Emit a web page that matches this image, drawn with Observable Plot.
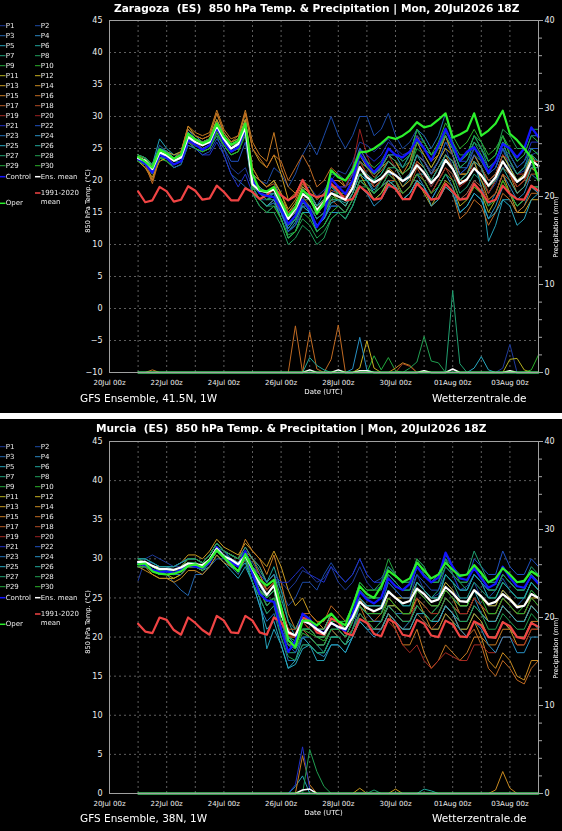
<!DOCTYPE html>
<html>
<head>
<meta charset="utf-8">
<script src="https://cdn.jsdelivr.net/npm/d3@7"></script>
<script src="https://cdn.jsdelivr.net/npm/@observablehq/plot@0.6"></script>
<style>
  body { margin: 0; background: #000; font-family: "DejaVu Sans", sans-serif; }
  .panel { position: relative; width: 562px; background: #000; overflow: hidden; }
  .panel svg { position: absolute; left: 0; top: 0; }
  .overlay { will-change: transform; }
  .overlay text { white-space: pre; font-family: "DejaVu Sans", sans-serif; }
  .sep { height: 6px; background: #fff; }
</style>
</head>
<body>
<div id="zar" class="panel" style="height:413px"></div>
<div class="sep"></div>
<div id="mur" class="panel" style="height:412px"></div>
<script>
// Forecast steps: 6-hourly from 21 Jul 00z to 4 Aug 00z
const runStart = Date.UTC(2026, 6, 21, 0);
const times = d3.range(57).map(i => new Date(runStart + i * 6 * 3600e3));
const tickDays = [20, 22, 24, 26, 28, 30, 32, 34].map(d => new Date(Date.UTC(2026, 6, d)));
const gridDays = d3.range(20, 36).map(d => new Date(Date.UTC(2026, 6, d)));
const xDomain = [new Date(Date.UTC(2026, 6, 20)), new Date(Date.UTC(2026, 7, 4))];
const precipTicks = [0, 10, 20, 30, 40];
const precipMinor = d3.range(0, 41, 2);

const memberNames = d3.range(1, 31).map(i => "P" + i);
const memberColors = [
  "#1e3a9a", "#1c4aa6", "#2466ae", "#2a86bf", "#24a0b8", "#1fa39a", "#1fa07a", "#1f9e5c", "#22a83c", "#2ab02a",
  "#b4b01e", "#c8b020", "#c89a20", "#c88a20", "#c87a22", "#c06a22", "#b85a24", "#b04a24", "#a82a22", "#9c2020",
  "#2030c8", "#1f50c0", "#2070b8", "#2890c4", "#28a8c0", "#20a89a", "#20a070", "#209e50", "#22a83c", "#2ab02a"
];
const controlColor = "#1414ff";
const meanColor = "#ffffff";
const operColor = "#2cf02c";
const climColor = "#f04444";

// ---------- Zaragoza (41.5N, 1W): 850 hPa temperature, °C ----------
const zarMembers = [
  [23.5,23,22,24.5, 23.5,22.5,23,26.5, 25,24.5,25,27.5, 25,22,21,22, 19,17,17,18, 17,14.5,16,18.5, 19,17.5,18.5,20, 21.5,21,23,26, 25.5,24.5,25.5,26.5, 25,24,24.5,26.5, 23,21.5,23,25, 22,19.5,20,22, 20,18,19.5,22, 22.5,21,21.5,24, 24.5],
  [23,22.5,21.5,24, 24,23,23.5,27, 26.5,26,26.5,29, 27,25.5,26,29.5, 21,20,19.5,22, 21,19,21,24, 26,24,27,30, 27,25,27,30, 30,27,28,30.5, 27,25,26,28, 26,24,25,27, 24,21,22,24, 22,20,21,24, 22,20,21,23.5, 23],
  [24,23.5,22.5,25.5, 24.5,23,24,27.5, 26,25,25.5,27, 24,21,20,19, 18,17,16,17, 15,12.5,14,16.5, 16,14,15,17, 18,17,19,22, 21,19,20,22, 22,20,21,24, 23,21,23,26, 25,22,22,25, 24,21,22,25, 22,20,20.5,22.5, 21],
  [24,23.5,22.5,25, 24.5,24,24,28, 26.5,26,26.5,29, 27,25.5,26,29, 20,19,18,19, 17,15,16,19, 18,16,17,19, 18,17,19,22, 20,18.5,20,21, 20,18,19,21, 19,17,19,21, 20,17,18,20, 19,16,18,21, 19,17,18,21, 20],
  [24,23.5,22.5,26.5, 25,24,24.5,28, 27,26,26.5,29.5, 27.5,26,26.5,29.5, 21,20,19,20, 17,13,14,17, 15,13,14,16, 16,15,17,20, 19,17,18,19.5, 20,18,19,21, 21,19,21,24, 23,20,21,23, 19,10.5,13,17, 17,15,16,19, 19],
  [23,22.5,21.5,24, 23.5,22.5,23,26, 25.5,25,25.5,28, 26,24.5,25,28, 19,18,17.5,18, 15,12,13.5,16.5, 16,14,15,17, 17,16.5,18,21, 20,19,20,21, 21,19,20.5,23, 22,20,22,24, 23,20,21,24, 22,20,21,24, 22,20,21,24, 23],
  [23.5,23,22,24, 24,23,23,26.5, 26,25.5,26,28, 26.5,25,26,28, 19,18,17,17, 15,13,14,16, 15,12,13,15, 15,14,16,19, 18,17,18,20, 19,18,19,21, 20,18,20,22, 21,18,19,21, 20,18,20,22, 21,19,20,22, 21],
  [23,22.5,21,23.5, 23,22,22.5,25.5, 25,24.5,25,27, 25.5,24,24.5,27, 18,16,15,15, 13,10,11,13, 12,10,11,14, 15,15,17,20, 20,20,22,24, 24,22,23,26, 25,23,25,27.5, 26,23,24,26, 25,23,24,27, 24,22,23,25, 24],
  [23.5,23,22,24.5, 24,23,23.5,27, 26,25.5,26,28.5, 26.5,25,25.5,28, 18,17,16,16.5, 14,11,12,15, 15,13,14,17, 18,18,20,24, 22,21,22,24, 23,21,22,25, 24,22,24,27, 25,22,23,25, 23,21,22,25, 23,21,22,25, 24],
  [23,22.5,21.5,23.5, 23,22,22.5,26, 25,24.5,25,27.5, 25.5,24,24.5,27.5, 19,18,17,17.5, 15,12,13,16, 16,14,15,17.5, 17,16,18,21, 21,20,21,23, 22,21,22,26, 26,24,26,29, 27,25,26,28, 26,24,25,27, 24,22,23,25, 25],
  [24,23.5,22,25, 24.5,23.5,24,27.5, 26.5,26,26.5,29.5, 27,25.5,26,29.5, 22,20,19,20, 18,15,16,18, 17,15,16,18, 17,16,18,21, 19,17,18,20, 19,17,18,20, 18,16,18,20, 19,16,17,19, 18,15,17,20, 18,16,17,19, 18],
  [23,22,20.5,23, 23.5,22.5,23,26.5, 25.5,25,25.5,28, 26,24.5,25,28.5, 20,19,18,19, 17,15,16.5,19, 18,16,17,19, 19,18,20,23, 22,21,22,23, 22,20,21,24, 23,21,23,25, 24,21,21,23, 22,20,21,24, 22,20,21,24, 22],
  [24,23,21,24.5, 24.5,24,24.5,28.5, 27,26.5,27,30.5, 27.5,26,26.5,30.5, 25,23,22,24, 21,17,18,20, 19,17,18,20, 20,19,21,24, 22,21,22,24, 23,21,22,26, 24,22,24,27, 24,20,21,23, 20,17,18,21, 18,15,15,17, 17],
  [23,22,20,23.5, 24,23,23.5,27, 26.5,26,26.5,29.5, 27,25.5,26,29.5, 21,20,19,20, 18,15.5,17,19.5, 18,16,17,19.5, 18,17,19,22, 21,19,20,22, 21,19,20,23, 22,20,22,24, 22,19,20,22, 21,18,20,23, 21,19,20,22, 21],
  [24,23,20,24, 24.5,23.5,24.5,28.5, 27.5,27,27.5,31, 28,26.5,27,31, 26,24,23,27.5, 22,19,18,20, 18,16,17,20, 20,19,21,25, 23,21,22,24, 23,21,23,27, 25,23,24,27, 24,21,21,24, 22,19,20,23, 21,18,19,22, 21],
  [23.5,22.5,19.5,23.5, 24,23,24,28, 27,26.5,27,30.5, 27.5,26,27,30.5, 25,23.5,22,24, 23,20,22,24, 22,19,20,22, 21,19,20,23, 21,19,20,22, 20,17,18,20, 19,16,17,19, 18,14,15,17, 16,13,15,18, 17,15,16,18, 18],
  [24,23.5,22,25, 24,23.5,24,27.5, 26.5,26,26.5,29, 27,25.5,26,29, 22,20,19,19.5, 17,14,15,18, 17,15,16,18.5, 18,17.5,19.5,23, 22,20.5,21.5,23, 22,20,21,24, 23,21,22,24, 23,20,20,22, 21,19,20,22, 21,19,20,23, 23],
  [23.5,23,21.5,24, 24,22.5,23,26.5, 25.5,25,25.5,28, 26,24.5,25,28, 20,19,18,19, 16,14,15,17.5, 16,14,15,17, 16,15,17,20, 19,18,19,20, 20,18,19,22, 20,18,20,22, 20,17,18,20, 19,17,18,21, 20,18,19,21, 21],
  [24,23,21.5,24.5, 24,23,23.5,27, 26,25,25.5,28, 26,24.5,25,27.5, 19,17,16,17, 15,13,14,17, 17,15,17,20, 19,18,20,23, 21,19,20,21, 20,18,19,21, 20,18,20,22, 21,19,20,23, 22,20,21,24, 23,21,21,23, 23],
  [23.5,23,22,24, 23.5,22.5,23,26, 25.5,25,25.5,28, 26,24.5,25,28, 20,19,18,18.5, 17,15,16,18, 17,15,17,20, 19,19,22,28, 24,21,22,24, 22,20,21,23, 21,19,21,23, 22,19,20,22, 21,18,20,23, 21,19,20,22, 22],
  [23.5,23,22,24, 23.5,22.5,23,26, 25,24,24,26, 24,21,19,21, 18,16,15,16, 15,12,13,16, 16,14,15,18, 19,19,21,25, 24,23,24,26, 25,23,24,27, 26,24,25,28, 26,23,23,25, 24,21,22,25, 24,22,23,26, 26],
  [23,22.5,21.5,23.5, 23.5,22,22.5,25.5, 25,24,24.5,26.5, 25,23,23,26, 19,17,16,16.5, 15,12,13,15, 15,13,14,16, 16,15,17,20, 19,18,19,21, 21,20,21,24, 23,21,23,26, 24,21,22,24, 23,21,22,25, 23,21,22,25, 25],
  [24,23.5,22.5,25, 24.5,23.5,24,27.5, 26,25.5,26,28.5, 26.5,25,25.5,28, 20,18,17,18, 16,13,14,17, 18,16,18,21, 21,20,22,25, 23,21,22,24, 24,22,24,28, 27,25,27,30.5, 26,23,24,27, 25,22,23,26, 25,23,24,27, 27],
  [23,22.5,21.5,24, 24,23,23.5,27, 26,25.5,26,28.5, 26.5,25,25.5,28.5, 20,19,18,18, 15,12.5,14,16, 15,12,13,15, 15,14,16,19, 18,16,17,19, 19,17,18,20, 19,17,19,21, 19,15,16,18, 17,14,16,19, 18,16,17,19, 18],
  [23.5,23,22.5,25, 24.5,23.5,24,27.5, 26,25.5,26,29, 26.5,25,25.5,28.5, 19,17,16,17, 14,11,12,15, 15,13,14,16.5, 17,16,18,21, 20,18,19,20, 19,17,18,20, 19,16,17,19, 18,15,16,18, 17,14,15,17, 16,13,14,17, 18],
  [23.5,23,22,24.5, 24,23,23.5,27, 26,25.5,26,28, 26.5,25,25.5,28.5, 20,18.5,18,19, 16,14,15,18, 18,16,17,19, 18,17,19,22, 21,20,21,23, 22,20,21,24, 22,20,22,24, 23,20,21,23, 22,19,20,22, 20,18,19,22, 22],
  [24,23.5,22.5,25, 24.5,23.5,24,27.5, 26.5,26,26.5,29, 27,25.5,26,29, 20,18,17.5,18, 16,13,14,17, 16,14,15,17, 17,17,19,23, 22,21,22,24, 23,22,24,28, 26,24,25,27, 25,22,23,26, 24,22,23,26, 23,21,22,24, 23],
  [23,22.5,21.5,23.5, 23.5,22.5,23,26.5, 25.5,25,25.5,28, 26,24.5,25,28, 19,17,16,16, 14,11.5,12,14, 13,11,12,14, 15,14,16,19, 19,18,20,22, 22,21,22,26, 25,24,25,28, 26,24,24,27, 26,23,24,28, 27,25,25,28, 28],
  [24,23.5,22.5,25, 24,23,23.5,26.5, 25.5,25,25.5,28, 26,24.5,25,28, 19,18,17,17.5, 16,13,14,17, 17,15,16,18, 18,18,20,24, 23,22,23,25, 24,23,24,28, 26,24,25,28, 26,23,24,27, 25,23,24,27, 25,23,24,27, 26],
  [23,22.5,21,23.5, 23.5,22.5,23,26, 25,24.5,25,27.5, 25.5,24,24.5,27.5, 18,16,15,16, 14,11,12,15, 14,12,13,15, 16,15,17,20, 19,18,19,21, 20,18,19,21, 20,18,19,21, 20,17,17,19, 18,16,17,20, 18,16,17,19, 19]
];
const zarControl = [23.4,22.6,21.2,24.0, 23.5,22.5,23.0,26.3, 25.6,24.8,25.5,28.3, 26.0,24.5,25.2,28.0, 20.0,18.0,17.6,17.4, 15.5,13.2,14.5,17.0, 15.5,12.7,14.5,20.3, 19.0,17.9,20.0,24.2, 22.5,21.3,22.5,25.0, 24.0,23.6,24.5,26.5, 25.0,23.1,25.5,28.1, 25.5,23.1,24.5,25.2, 23.5,21.3,23.0,25.7, 25.0,23.6,25.0,28.3, 26.8];
const zarMean = [23.5,23.1,21.8,24.4, 23.9,23.1,23.6,26.8, 26.0,25.5,26.0,28.6, 26.5,25.0,25.7,28.3, 19.4,18.4,18.2,18.6, 16.4,14.0,15.6,17.9, 17.1,15.4,16.6,18.0, 17.5,17.0,18.8,22.1, 20.5,19.7,20.3,21.5, 20.8,19.9,20.6,22.4, 21.2,19.6,20.8,23.2, 21.8,19.5,20.2,21.9, 20.8,19.2,20.5,23.0, 21.3,19.8,20.6,23.1, 22.3];
const zarOper = [23.7,22.9,22.0,24.8, 24.2,23.4,24.0,27.3, 26.4,25.8,26.3,28.9, 26.9,25.6,26.2,28.9, 21.0,18.5,18.3,19.0, 16.8,14.5,15.8,18.5, 17.5,14.8,16.5,21.6, 20.5,20.0,21.5,24.4, 24.5,25.0,25.8,26.8, 26.5,27.0,27.8,29.1, 28.3,28.6,29.5,30.5, 26.7,27.2,27.8,30.5, 27.0,27.8,28.9,30.9, 27.3,26.3,25.0,23.6, 20.0];
const zarClim = [18.3,16.6,16.9,19.0, 18.3,16.7,17.0,19.1, 18.4,17.0,17.2,19.2, 18.2,16.9,16.9,18.8, 18.2,17.1,17.7,18.8, 17.7,16.9,17.6,20.1, 17.9,17.4,17.7,19.5, 18.4,16.9,17.1,19.1, 18.2,17.0,17.2,19.4, 18.7,17.1,17.1,19.5, 18.4,17.0,17.2,19.5, 18.3,17.0,17.2,19.5, 18.2,16.6,17.0,19.2, 17.9,17.1,17.0,19.2, 18.4];
// 6-hourly precipitation, mm: [series, step, amount]; every other step is dry
const zarRain = [
  ["P15",2,0.3], ["P16",22,5.3], ["P16",24,4.6], ["P16",25,0.4], ["P16",27,1.5], ["P16",28,5.4],
  ["P26",24,1.7], ["P26",25,0.8], ["P26",26,0.3], ["P24",30,0.4], ["P24",31,4.0], ["P24",32,0.3],
  ["P12",31,0.5], ["P12",32,3.6], ["P12",33,0.5], ["P9",33,1.9], ["P9",34,0.3], ["P9",35,1.7], ["P9",36,0.2],
  ["P14",36,0.5], ["P14",37,1.1], ["P14",38,0.8], ["P18",37,1.0], ["P18",38,0.7],
  ["P28",38,0.5], ["P28",39,1.2], ["P28",40,4.1], ["P28",41,1.3], ["P28",42,1.1],
  ["P27",44,9.3], ["P27",45,1.0], ["P25",47,0.5], ["P25",48,1.8], ["P25",49,0.3],
  ["P1",51,0.5], ["P1",52,3.2], ["P11",52,1.5], ["P11",53,1.6], ["P11",54,0.3], ["P10",55,0.3], ["P10",56,2.0],
  ["mean",24,0.3], ["mean",28,0.3], ["mean",31,0.2], ["mean",32,0.2], ["mean",40,0.2], ["mean",44,0.4], ["mean",52,0.2]
];

// ---------- Murcia (38N, 1W): 850 hPa temperature, °C ----------
const murMembers = [
  [27.2,30,30.5,30, 29.5,29,29,29.5, 29.5,29,29.5,31, 30,29.5,29,30, 28,27,26,27, 27,26,27,28.5, 28,27,27.5,29, 27,26,27,29, 27,26,26.5,28, 27,26,26,28, 26,25,25.5,27, 26,25,25,27, 25,24,24.5,26, 25,24,24,26, 25],
  [29,29,28.5,28, 28.5,28.5,29,29.5, 29.5,29,30,31.5, 30.5,30,29.5,30.5, 29.5,28,27,28, 26,24,25,27, 27,26,28,29.5, 28,27,28,30, 28,27,27.5,29, 28,27,27.5,30, 29,27,28,30, 28,26,26.5,28, 27,25,26,27.5, 26,25,25,27, 26],
  [29.5,29.5,29,28.5, 28,27,26,25.3, 28,28,29,30, 30,29,28,30, 27,25,23,24, 21,19,19,21, 20,19,19,21, 20,19,21,23, 22,22,22,24, 23,23,23,25, 24,23,24,26, 25,24,24,26, 25,24,24,26, 25,24,25,27, 26],
  [30,29.5,29,29, 29,28.5,29,29.5, 29.5,29,30,31.5, 31,30,29.5,31, 29,27,25,26, 22,19,18.5,20, 19,18,17.5,19, 19,18,20,22, 21,20,21,23, 22,21,22,24, 23,22,23,25, 24,23,23,25, 23,22,22,24, 23,22,22,24, 23],
  [29.5,29,28.5,28, 28,28,28.5,29, 29,28.5,29,30.5, 29.5,28.5,27.5,29, 27,25,18.5,21, 19,16,17,20, 19,17,17,19, 19,18,20,23, 22,21,22,24, 24,23,23,26, 25,24,24,26, 25,24,24,26, 24,23,23,25, 24,23,23,25, 24],
  [29.5,29.5,29,29, 29,28.5,29,30, 30,29.5,30.5,32, 31,30.5,30,31, 30,28.5,27,29, 26,22,20,21, 20,19,18,20, 20,19,21,23, 22,21,21,23, 22,21,21,23, 22,21,21,23, 22,21,21,23, 22,20,20,22, 21,20,20,22, 21],
  [29,29,28.5,28.5, 28.5,28,28.5,29, 29,28.5,29.5,31, 30,29.5,29,30, 28,26,24,25, 21,18,18,20, 20,19,19,21, 21,20,22,25, 24,24,24,27, 26,25,25,27, 26,25,26,28, 27,25,25,27, 26,25,25,27, 26,25,25,27, 26],
  [29.5,29.5,29,28.5, 28.5,28.5,28.5,29, 29,28.5,29.5,31, 30,29.5,29,30, 28,26,24.5,25, 22,20,19,21, 21,20,20,22, 22,21,23,26, 25,25,25,28, 27,26,26,29, 28,27,27,30, 28,27,26,28, 27,26,26,28, 27,26,26,28, 27],
  [29.5,29.5,29,28.5, 28.5,28.5,29,29.5, 29.5,29,30,31.5, 30.5,30,29.5,30.5, 28,26,25,26, 23,20,19,21, 21,20,20,22, 22,22,24,27, 26,26,27,30, 28,27,27,30, 29,27,28,30.5, 29,27,27,29, 28,27,27,29, 28,27,27,28.5, 28],
  [30,30,29.5,29, 29,29,29.5,30, 30,29.5,30.5,32, 31,30.5,30,31, 29,27.5,26,27, 23,20,19.5,21, 20.5,20,19.5,21, 20,19,21,23, 22,22,22,25, 24,23,23,25, 24,23,24,26, 25,23,23,25, 24,23,23,25, 24,23,24,26, 25],
  [29,29,28.5,28, 28,27.5,28,29, 29,28.5,29.5,31, 30,29.5,29,30.5, 29,27,26,27, 23,21,20,22, 21,20,20,22, 21,20,22,24, 23,22,22,24, 24,23,23,25, 24,23,23,25, 24,23,23,25, 24,22,22,24, 23,22,22,24, 23],
  [29.5,29,28,27.5, 27.5,27.5,28,29, 29,28.5,29.5,31, 30,29,28.5,30, 28,26,25,26, 22,20,20,22, 22,21,21,23, 22,21,23,25, 24,24,24,26, 25,25,25,27, 26,25,25,27, 26,24,24,26, 25,24,24,26, 25,24,24,25, 25],
  [29.5,29.5,29,29, 29,29,29.5,30.5, 30.5,30,31,32.5, 31.5,31,30.5,32, 31,30,29,31, 29,26,24,25, 23,22,21,23, 22,21,23,25, 23,23,23,25, 24,23,23,25, 23,22,22,24, 23,21,21,23, 22,20,20,22, 21,19,19,21, 21],
  [29,28.5,28,27.5, 27.5,27,27.5,28.5, 28.5,28,29,30.5, 29.5,29,28.5,30, 29,28,26,27, 24,21,20,22, 22,21,21,23, 22,21,22,24, 23,22,22,24, 23,22,22,24, 23,21,21,23, 22,20,20,22, 20,17,16,18, 17,15,14.5,17, 17],
  [29.5,29.5,29,28.5, 28.5,28.5,29,30, 30,29.5,30.5,32, 31,30.5,30,32.5, 31,30,28,30.5, 27,23,21,22, 21,20,20,22, 21,20,22,24, 22,21,21,23, 21,19,19,21, 18,16,17,19, 18,17,18,20, 20,19,19,21, 21,20,20,22, 22],
  [29,29,28.5,28, 28,28,28.5,29.5, 29.5,29,30,31.5, 30.5,30,29.5,31, 30,28,26,27, 23,21,21,23, 23,22,22,24, 23,22,23,25, 24,23,23,25, 24,23,23,24, 23,22,22,24, 23,21,20,21, 19,16,15,17, 16,14.5,14,16, 17],
  [30,29.5,29,28.5, 28.5,28.5,29,30, 30,29.5,30.5,32, 31,30.5,30,31.5, 30,29,27,28, 24,21,20,22, 21,20,20,22, 21,20,22,24, 23,22,23,25, 24,23,23,26, 25,24,24,26, 25,23,23,25, 24,23,23,25, 24,23,23,25, 24],
  [29,29,28.5,28, 28,28,28.5,29, 29,28.5,29.5,31, 30,29.5,29,30, 28,26,24,25, 21,19,19,21, 20,19,19,21, 20,19,21,23, 22,21,21,23, 22,21,21,23, 22,21,22,24, 23,22,22,24, 23,22,22,24, 23,22,22,24, 23],
  [29.5,29,28.5,28, 28,28,28.5,29, 29,28.5,29.5,31, 30,29.5,29,30.5, 29,27,25,26, 22,20,20,22, 21,20,20,22, 21,20,21,23, 22,21,21,22, 21,19,18,19, 17,16,17,18, 17.5,17,17,19, 19,18,18,20, 20,19,19,21, 21],
  [29.5,29.5,29,28.5, 28.5,28.5,29,29.5, 29.5,29,30,31.5, 30.5,30,29.5,30.5, 29,27,26,27, 23,21,20,22, 21,20,20,22, 21,21,22,24, 23,22,22,24, 23,22,22,25, 24,23,23,25, 24,23,23,25, 24,23,23,25, 24,23,23,25, 24],
  [29,29.5,29.5,29, 29,29,29.5,30, 30,29.5,30.5,32, 31,30.5,30,31, 29,28,27,28, 27,27,28,29, 28,27.5,27,29, 28,27,28,30, 28,27,27,29, 28,27,27,29, 28,27,27,29, 28,26,26,28, 27,26,26,28, 27,26,26,28, 27],
  [30,30,29.5,29, 29,29,29.5,30, 30,29.5,30.5,32, 31,30,29.5,31, 28,26,24,25, 22,19,18,20, 20,19,19,21, 21,20,22,25, 24,24,24,27, 26,25,25,28, 27,26,26,29, 28,27,27,30, 29,28,28,31, 29,28,28,30, 29],
  [29.5,29.5,29,28.5, 28.5,28,28,29, 29,28.5,29.5,31, 30,29.5,29,30, 27,24,22,23, 20,17,17,19, 19,18,18,20, 20,19,21,24, 23,23,23,26, 25,24,24,27, 26,25,25,28, 27,26,26,28, 27,26,26,28, 27,26,26,28, 27],
  [29,29,28.5,28, 28,28,28.5,29.5, 29.5,29,30,31.5, 30.5,30,29,30, 28,26.5,25,26, 22,20,19,21, 21,20,20,22, 21,20,22,24, 23,22,22,24, 23,22,22,24, 23,22,22,24, 23,21,20,22, 21,19,18,20, 20,18,18,20, 20],
  [29.5,29.5,29,28.5, 28.5,28,28.5,29, 29,28.5,29.5,31, 30,29,28.5,29.5, 27,24,21,22, 19,16,16.5,18.5, 19,18,18,20, 20,19,20,22, 21,21,21,23, 22,21,21,23, 23,22,22,24, 23,22,22,24, 23,22,22,24, 23,22,22,24, 23],
  [30,30,29.5,29, 29,29,29.5,30, 30,29.5,30.5,32, 31,30.5,30,31.5, 30,29,27,28, 25,22,21,23, 22,21,21,23, 22,21,23,25, 24,24,24,26, 25,24,24,27, 26,25,25,28, 27,26,26,28, 27,25,25,27, 26,25,25,27, 26],
  [29,29,28.5,28, 28.5,28,28.5,29.5, 29.5,29,30,31.5, 30.5,30,29.5,30.5, 28,26,25,26, 22,20,19.5,21, 21,20,20,22, 22,21,23,26, 25,25,25,28, 27,26,26,29, 28,27,27,30, 29,28,28,31, 29,27,27,29, 28,27,27,29, 28],
  [29.5,29.5,29,28.5, 28.5,28.5,29,29.5, 29.5,29,29.5,31, 30,29.5,29,30, 27,25,23,24, 20,17.5,17,19, 19,18,18,20, 20,19,21,23, 22,21,22,24, 23,22,22,24, 23,22,23,25, 24,22,22,24, 23,21,21,23, 22,21,21,23, 22],
  [30,29.5,29,28.5, 28.5,28.5,29,30, 30,29.5,30.5,32, 31,30.5,30,31, 29,27,25,26, 22,19.5,19,21, 21,20,20,22, 22,22,24,27, 26,26,26,29, 28,27,27,30, 28,27,27,29, 28,27,27,29, 28,26,26,28, 27,26,26,28, 27],
  [29,29,28.5,28, 28,28,28.5,29, 29,28.5,29.5,31, 30,29.5,29,30, 28,26,24,25, 21,19,18.5,20.5, 20,19,19,21, 21,20,22,24, 23,23,23,25, 24,23,23,26, 25,24,24,26, 25,24,24,26, 25,23,23,25, 24,23,23,25, 24]
];
const murControl = [29.4,29.2,28.6,28.3, 28.4,28.2,28.6,29.2, 29.0,28.8,29.5,31.5, 30.2,29.6,29.0,31.0, 28.0,25.5,24.7,24.5, 21.0,18.1,19.5,23.0, 22.3,21.0,20.5,21.8, 21.3,20.8,23.0,25.8, 24.8,24.3,25.0,27.5, 26.5,26.0,26.8,29.0, 27.8,27.0,27.6,30.8, 29.0,27.5,27.3,28.8, 27.5,26.3,26.8,29.0, 27.6,26.5,26.3,27.8, 26.8];
const murMean = [29.6,29.6,29.1,28.7, 28.7,28.6,28.9,29.4, 29.3,29.2,29.9,31.3, 30.3,29.9,29.3,30.4, 28.7,26.8,25.4,26.6, 23.0,20.6,20.2,22.1, 21.7,21.0,20.4,21.8, 21.3,21.0,22.5,24.5, 23.7,23.3,23.7,25.8, 25.0,24.3,24.6,26.2, 25.5,24.5,24.8,26.4, 25.6,24.6,24.5,26.0, 25.2,24.2,24.5,25.5, 24.8,23.8,24.0,25.5, 25.0];
const murOper = [29.3,29.4,28.4,28.1, 28.0,28.1,28.4,29.1, 29.3,28.9,29.8,31.1, 30.2,29.3,28.4,30.6, 28.8,27.3,26.6,27.3, 23.8,19.6,18.7,22.1, 22.1,21.5,22.3,23.0, 22.0,21.5,24.0,26.5, 25.5,25.0,26.5,28.5, 27.8,27.0,27.5,29.5, 28.5,27.5,28.0,29.5, 28.6,27.8,28.0,29.2, 28.2,27.0,27.5,28.8, 28.0,27.0,27.2,28.4, 27.8];
const murClim = [21.7,20.7,20.5,22.5, 22.2,20.9,20.3,22.5, 21.8,20.9,20.3,22.7, 22.1,20.6,20.5,22.7, 22.1,20.6,20.3,22.5, 21.9,20.4,20.2,22.5, 22.1,20.6,20.3,22.4, 21.9,20.5,20.2,22.3, 21.8,20.4,20.1,22.3, 21.8,20.3,20.1,22.2, 21.7,20.2,20.0,22.1, 21.6,20.1,20.0,22.0, 21.5,20.0,19.9,21.9, 21.4,20.0,19.8,21.8, 21.3];
const murRain = [
  ["P5",22,0.8], ["P5",23,2.0], ["P21",22,1.0], ["P21",23,5.3], ["P21",24,0.5],
  ["P15",23,4.3], ["P15",24,1.0], ["P28",24,5.0], ["P28",25,2.5], ["P28",26,0.8],
  ["P13",31,0.6], ["P13",36,0.5], ["P27",33,0.4], ["P26",40,0.5], ["P26",41,0.3],
  ["P14",50,0.4], ["P14",51,2.5], ["P14",52,0.6],
  ["mean",23,0.4], ["mean",24,0.5]
];

const panels = [
  {
    id: "zar", height: 413, mt: 20, mb: 41, lo: -10, hi: 45, titleX: 114, titleY: 8, footY: 398,
    title: "Zaragoza  (ES)  850 hPa Temp. & Precipitation | Mon, 20Jul2026 18Z",
    foot: "GFS Ensemble, 41.5N, 1W",
    members: zarMembers, control: zarControl, mean: zarMean, oper: zarOper, clim: zarClim, rain: zarRain
  },
  {
    id: "mur", height: 412, mt: 22, mb: 38, lo: 0, hi: 45, titleX: 96, titleY: 9, footY: 399,
    title: "Murcia  (ES)  850 hPa Temp. & Precipitation | Mon, 20Jul2026 18Z",
    foot: "GFS Ensemble, 38N, 1W",
    members: murMembers, control: murControl, mean: murMean, oper: murOper, clim: murClim, rain: murRain
  }
];

function drawPanel(p) {
  const el = document.getElementById(p.id);
  const {lo, hi} = p;
  // precipitation (0–40 mm) shares the vertical extent of the temperature scale
  const toT = mm => lo + mm * (hi - lo) / 40;
  const rainOf = name => {
    const a = new Array(times.length).fill(0);
    p.rain.filter(r => r[0] === name).forEach(([, i, v]) => { a[i] = v; });
    return a;
  };
  const xOf = (d, i) => times[i];
  const marks = [
    Plot.ruleY(d3.range(lo, hi + 1, 5), {stroke: "#5e5e5e", strokeDasharray: "2,3"}),
    Plot.ruleX(gridDays, {stroke: "#5e5e5e", strokeDasharray: "2,3"}),
    Plot.axisY(d3.range(lo, hi + 1, 5), {anchor: "left", tickSize: 0, tickPadding: 7, fontSize: 8, label: null}),
    Plot.axisY(precipTicks.map(toT), {anchor: "right", tickSize: 4, tickPadding: 2, fontSize: 8, stroke: "#aaa", label: null,
      tickFormat: t => String(Math.round((t - lo) * 40 / (hi - lo)))}),
    Plot.axisY(precipMinor.map(toT), {anchor: "right", tickSize: 3, stroke: "#aaa", label: null, tickFormat: () => ""}),
    Plot.axisX(tickDays, {tickSize: 0, tickPadding: 8, fontSize: 7, label: null, tickFormat: d3.utcFormat("%d%b 00z")})
  ];
  // temperature
  p.members.forEach((vals, k) => marks.push(Plot.line(vals, {x: xOf, y: d => d, stroke: memberColors[k], strokeWidth: 1})));
  marks.push(Plot.line(p.clim, {x: xOf, y: d => d, stroke: climColor, strokeWidth: 2.2}));
  marks.push(Plot.line(p.control, {x: xOf, y: d => d, stroke: controlColor, strokeWidth: 2.2}));
  marks.push(Plot.line(p.mean, {x: xOf, y: d => d, stroke: meanColor, strokeWidth: 2.2}));
  marks.push(Plot.line(p.oper, {x: xOf, y: d => d, stroke: operColor, strokeWidth: 2.2}));
  // precipitation
  memberNames.forEach((n, k) => marks.push(Plot.line(rainOf(n), {x: xOf, y: d => toT(d), stroke: memberColors[k], strokeWidth: 1})));
  marks.push(Plot.line(rainOf("Control"), {x: xOf, y: d => toT(d), stroke: controlColor, strokeWidth: 1.5}));
  marks.push(Plot.line(rainOf("mean"), {x: xOf, y: d => toT(d), stroke: meanColor, strokeWidth: 1.5}));
  marks.push(Plot.line(rainOf("Oper"), {x: xOf, y: d => toT(d), stroke: operColor, strokeWidth: 2}));
  marks.push(Plot.frame({stroke: "#a0a0a0"}));

  const chart = Plot.plot({
    width: 562, height: p.height,
    marginLeft: 109, marginRight: 24, marginTop: p.mt, marginBottom: p.mb,
    x: {type: "utc", domain: xDomain, label: null},
    y: {domain: [lo, hi], label: null},
    style: {background: "transparent", color: "#eeeeee", fontFamily: "DejaVu Sans", fontSize: "8px"},
    marks
  });
  el.appendChild(chart);

  // titles, footer and legend drawn on an SVG layer above the chart
  const svg = d3.select(el).append("svg")
    .attr("class", "overlay").attr("width", 562).attr("height", p.height);
  const text = (s, x, y, o = {}) => {
    const t = svg.append("text").text(s)
      .attr("x", x).attr("y", y)
      .attr("dominant-baseline", "central")
      .attr("text-anchor", o.anchor || "start")
      .attr("font-size", o.size || 7)
      .attr("fill", o.color || "#ffffff");
    if (o.bold) t.attr("font-weight", "bold");
    if (o.rotate) t.attr("transform", `rotate(${o.rotate},${x},${y})`);
  };
  const swatch = (x, y, color, w) => svg.append("line")
    .attr("x1", x).attr("x2", x + 5.5).attr("y1", y).attr("y2", y)
    .attr("stroke", color).attr("stroke-width", w);

  const top = p.mt, bottom = p.height - p.mb;
  text(p.title, p.titleX, p.titleY, {size: 10.6, bold: true});
  text("850 hPa Temp. (°C)", 87.5, top + 181, {size: 6.6, anchor: "middle", rotate: -90});
  text("Precipitation (mm)", 556, top + 207, {size: 6.6, anchor: "middle", rotate: -90});
  text("Date (UTC)", 323.5, bottom + 20, {size: 7, anchor: "middle"});
  text(p.foot, 80, p.footY, {size: 10.5});
  text("Wetterzentrale.de", 432, p.footY, {size: 10.5});

  const legendText = "#e8e8e8";
  memberNames.forEach((n, k) => {
    const x = k % 2 ? 35 : 0, y = top + 5.7 + Math.floor(k / 2) * 10;
    swatch(x, y, memberColors[k], 1);
    text(n, x + 5.7, y, {size: 7, color: legendText});
  });
  swatch(0, top + 156.7, controlColor, 1.5);
  text("Control", 5.7, top + 156.7, {size: 7, color: legendText});
  swatch(35, top + 156.7, meanColor, 1.5);
  text("Ens. mean", 40.7, top + 156.7, {size: 7, color: legendText});
  swatch(35, top + 173, climColor, 1.5);
  text("1991-2020", 40.7, top + 172.7, {size: 7, color: legendText});
  text("mean", 40.7, top + 182.3, {size: 7, color: legendText});
  swatch(0, top + 183.3, operColor, 1.5);
  text("Oper", 5.7, top + 183.3, {size: 7, color: legendText});
}

panels.forEach(drawPanel);
</script>
</body>
</html>
